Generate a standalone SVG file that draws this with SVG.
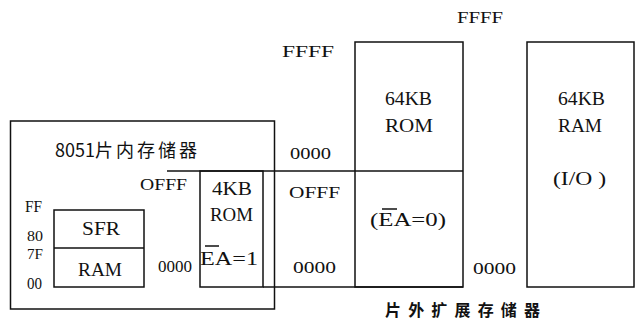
<svg xmlns="http://www.w3.org/2000/svg" width="636" height="322" viewBox="0 0 636 322">
<style>
  .box { fill: none; stroke: #111; stroke-width: 1.5; }
  .ln { stroke: #111; stroke-width: 1.5; fill: none; }
  .t { font-family: 'Liberation Serif', 'DejaVu Serif', serif; font-size: 19px; fill: #111; }
  .d { font-family: 'Liberation Serif', 'DejaVu Serif', serif; font-size: 16px; fill: #111; }
  .a { font-family: 'Liberation Serif', 'DejaVu Serif', serif; font-size: 17px; fill: #111; }
  .s { font-family: 'Liberation Serif', 'DejaVu Serif', serif; font-size: 15px; fill: #111; }
  .cn { font-family: 'Noto Sans CJK SC', 'Noto Sans', sans-serif; font-size: 18px; fill: #111; }
  .cnb { font-family: 'Noto Sans CJK SC', 'Noto Sans', sans-serif; font-size: 16px; font-weight: bold; fill: #111; }
</style>
<rect width="636" height="322" fill="#fff"/>

<g id="internal-memory">
  <rect class="box" x="10.5" y="121" width="264" height="188"/>
  <text class="cn" x="55" y="157">8051<tspan letter-spacing="3">片内存储器</tspan></text>
</g>

<g id="sfr-ram">
  <rect class="box" x="54" y="210" width="90" height="77"/>
  <line class="ln" x1="54" y1="248" x2="144" y2="248"/>
  <text class="t" x="82" y="235" textLength="38" lengthAdjust="spacingAndGlyphs">SFR</text>
  <text class="t" x="78" y="276" textLength="44" lengthAdjust="spacingAndGlyphs">RAM</text>
  <text class="a" x="25" y="212" textLength="17" lengthAdjust="spacingAndGlyphs">FF</text>
  <text class="s" x="27" y="241" textLength="16" lengthAdjust="spacingAndGlyphs">80</text>
  <text class="s" x="27" y="259" textLength="16" lengthAdjust="spacingAndGlyphs">7F</text>
  <text class="a" x="27" y="289" textLength="15" lengthAdjust="spacingAndGlyphs">00</text>
</g>

<g id="rom-4kb">
  <rect class="box" x="200" y="171" width="63" height="116"/>
  <text class="t" x="212" y="195" textLength="40" lengthAdjust="spacingAndGlyphs">4KB</text>
  <text class="t" x="210" y="221" textLength="43" lengthAdjust="spacingAndGlyphs">ROM</text>
  <text class="t" x="200" y="265" textLength="58" lengthAdjust="spacingAndGlyphs">EA=1</text>
  <line class="ln" x1="205" y1="246" x2="219" y2="246"/>
  <text class="a" x="140" y="190" textLength="47" lengthAdjust="spacingAndGlyphs">OFFF</text>
  <text class="d" x="158" y="272" textLength="34" lengthAdjust="spacingAndGlyphs">0000</text>
</g>

<g id="connectors">
  <line class="ln" x1="167" y1="171" x2="463" y2="171"/>
  <line class="ln" x1="263" y1="287" x2="463" y2="287"/>
</g>

<g id="rom-64kb">
  <rect class="box" x="355" y="42" width="108" height="245"/>
  <text class="t" x="385" y="105" textLength="47" lengthAdjust="spacingAndGlyphs">64KB</text>
  <text class="t" x="385" y="132" textLength="48" lengthAdjust="spacingAndGlyphs">ROM</text>
  <text class="t" x="370" y="226" textLength="76" lengthAdjust="spacingAndGlyphs">(EA=0)</text>
  <line class="ln" x1="382" y1="209" x2="397" y2="209"/>
  <text class="a" x="282" y="57" textLength="52" lengthAdjust="spacingAndGlyphs">FFFF</text>
  <text class="d" x="290" y="159" textLength="41" lengthAdjust="spacingAndGlyphs">0000</text>
  <text class="a" x="289" y="198" textLength="51" lengthAdjust="spacingAndGlyphs">OFFF</text>
  <text class="d" x="293" y="273" textLength="43" lengthAdjust="spacingAndGlyphs">0000</text>
</g>

<g id="ram-64kb">
  <rect class="box" x="527" y="42" width="107" height="245"/>
  <text class="t" x="558" y="105" textLength="47" lengthAdjust="spacingAndGlyphs">64KB</text>
  <text class="t" x="558" y="132" textLength="44" lengthAdjust="spacingAndGlyphs">RAM</text>
  <text class="t" x="553" y="185" textLength="53" lengthAdjust="spacingAndGlyphs">(I/O )</text>
  <text class="a" x="457" y="23" textLength="46" lengthAdjust="spacingAndGlyphs">FFFF</text>
  <text class="d" x="473" y="274" textLength="43" lengthAdjust="spacingAndGlyphs">0000</text>
</g>

<g id="external-label">
  <text class="cnb" x="385" y="316" textLength="155" lengthAdjust="spacing">片外扩展存储器</text>
</g>
</svg>
